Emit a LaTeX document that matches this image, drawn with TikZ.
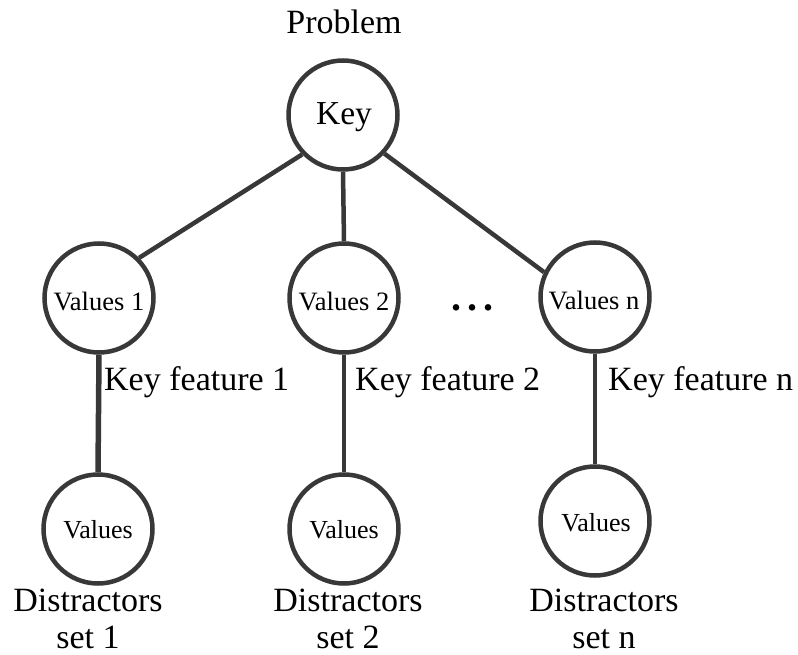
\documentclass[tikz,border=0pt]{standalone}
\usepackage{fontspec}
\setmainfont{Liberation Serif}
\definecolor{linegray}{HTML}{383838}
\begin{document}
\begin{tikzpicture}[x=1pt,y=-1pt,
  vnode/.style={circle,draw=linegray,line width=4.5pt,minimum size=109pt,inner sep=0pt},
  conn/.style={draw=linegray,line width=4.5pt},
  bigtxt/.style={font=\fontsize{34}{37}\selectfont,inner sep=0pt},
  smalltxt/.style={font=\fontsize{26.5}{30}\selectfont},
  feat/.style={bigtxt,anchor=base west}]
\useasboundingbox (0,0) rectangle (798,655);
% nodes
\node[vnode] (key) at (343,115) {};
\node[font=\fontsize{33.5}{36}\selectfont] at (344,117) {Key};
\node[vnode] (v1) at (99,298) {};
\node[vnode] (v2) at (344,298) {};
\node[vnode] (vn) at (595,297) {};
\node[vnode] (b1) at (98,529) {};
\node[vnode] (b2) at (344,529) {};
\node[vnode] (bn) at (595,521) {};
% labels inside circles
\node[smalltxt,anchor=base] (t1) at (99,310) {Values 1};
\node[smalltxt,anchor=base] (t2) at (344,310) {Values 2};
\node[smalltxt,anchor=base] (tn) at (594,309) {Values n};
\node[smalltxt,anchor=base,font=\fontsize{26}{30}\selectfont] (u1) at (98,538) {Values};
\node[smalltxt,anchor=base,font=\fontsize{26}{30}\selectfont] (u2) at (344,538) {Values};
\node[smalltxt,anchor=base,font=\fontsize{26}{30}\selectfont] (un) at (596,531) {Values};
% connectors
\draw[conn] (key.224) -- (v1.45);
\draw[conn] (key.south) -- (v2.north);
\draw[conn] (key.317) -- (vn.154);
\draw[conn,line width=5.5pt] (v1.south) -- (b1.north);
\draw[conn] (v2.south) -- (b2.north);
\draw[conn] (vn.south) -- (bn.north);
% texts
\node[bigtxt,anchor=base] (prob) at (344,34) {Problem};
\node[feat] (f1) at (104,390) {Key feature 1};
\node[feat] (f2) at (355,390) {Key feature 2};
\node[feat] (fn) at (608,390) {Key feature n};
\node[bigtxt,anchor=base,font=\fontsize{40}{40}\selectfont\bfseries] (dots) at (472,310) {.\hspace{6pt}.\hspace{6pt}.};
\node[bigtxt,align=center,anchor=north] (d1) at (88,589) {Distractors\\set 1};
\node[bigtxt,align=center,anchor=north] (d2) at (348,589) {Distractors\\set 2};
\node[bigtxt,align=center,anchor=north] (dn) at (604,589) {Distractors\\set n};
\end{tikzpicture}
\end{document}
